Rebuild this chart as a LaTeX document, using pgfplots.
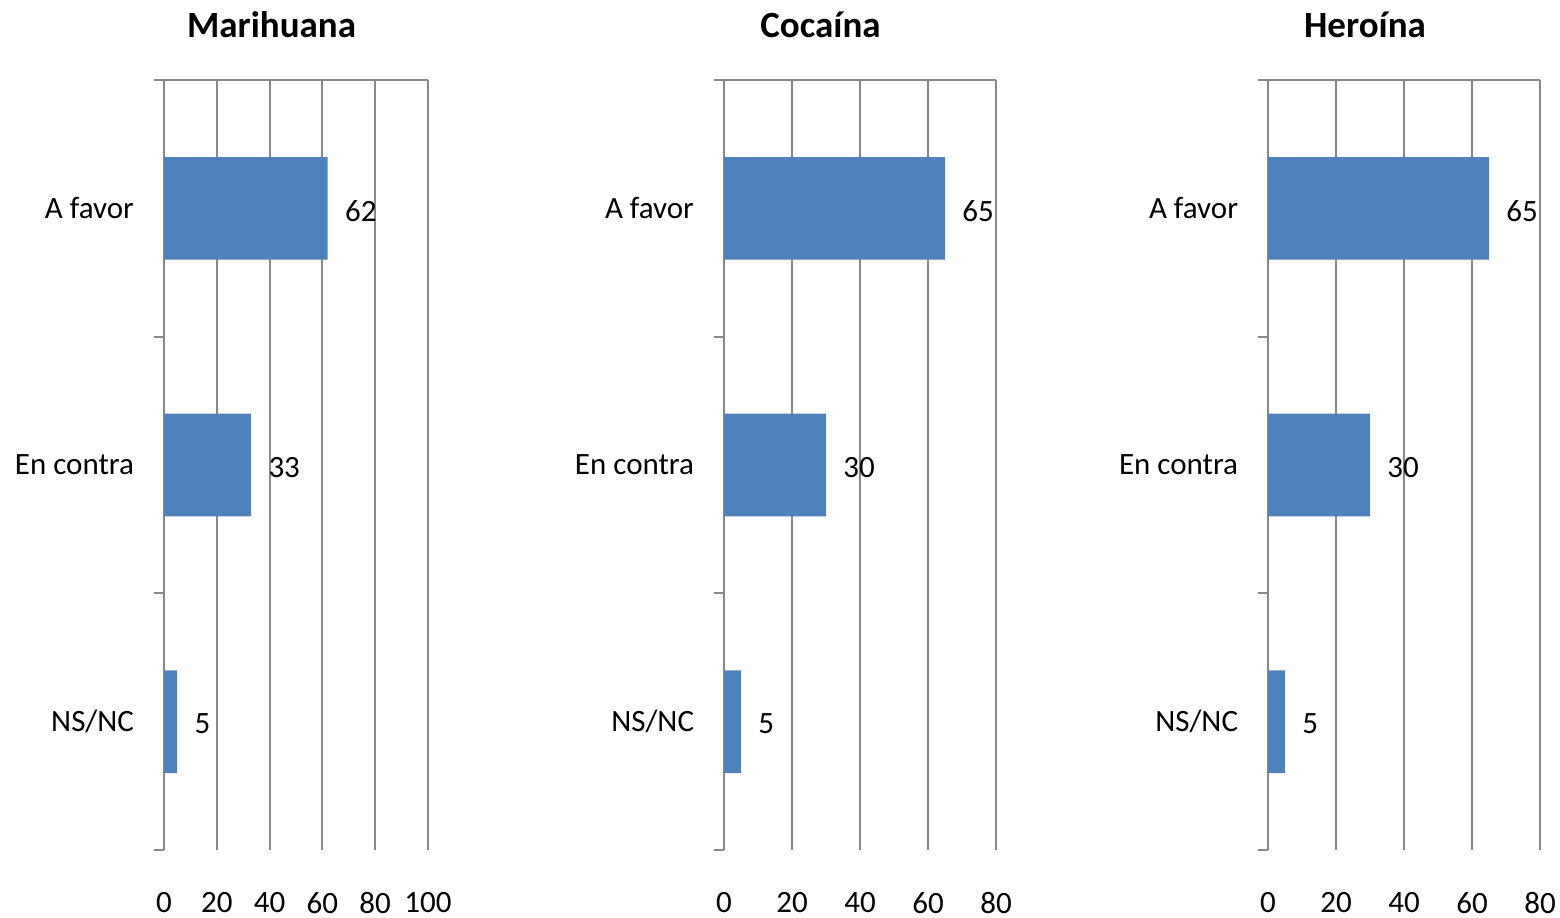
\documentclass[border=0pt]{standalone}
\usepackage{fontspec}
\setmainfont{Carlito}
\usepackage{pgfplots}
\pgfplotsset{compat=1.18}
\definecolor{barblue}{HTML}{4F81BD}
\definecolor{gridgray}{HTML}{888888}

\pgfplotsset{
  panel/.style={
    xbar, bar width=0.4, scale only axis,
    height=385bp,
    ymin=-0.5, ymax=2.5, y dir=reverse,
    xmin=0,
    ytick={0,1,2},
    yticklabels={A favor,En contra,NS/NC},
    minor ytick={-0.5,0.5,1.5,2.5},
    ytick pos=left,
    major tick length=0pt,
    minor tick length=5bp,
    tick align=outside,
    tick style={gridgray, line width=1bp},
    axis line style={draw=none},
    xmajorgrids,
    major grid style={gridgray, line width=1bp},
    /pgf/number format/assume math mode=true,
    tick label style={font=\fontsize{15.5bp}{18bp}\selectfont, text=black},
    yticklabel style={inner sep=0pt, xshift=-14.8bp},
    xticklabel style={inner sep=0pt, anchor=north, yshift=-21bp},
    nodes near coords,
    nodes near coords style={font=\fontsize{15.5bp}{18bp}\selectfont, text=black, anchor=west, inner sep=0pt, xshift=8.5bp, yshift=-1.2bp},
  },
  bars/.style={fill=barblue, draw=none},
}

\begin{document}
\begin{tikzpicture}[x=0.5bp, y=0.5bp]
\useasboundingbox (0,0) rectangle (1560,-917);

% Marihuana
\begin{axis}[panel, at={(82bp,-425bp)}, anchor=south west, width=132bp,
  xmax=100, xtick={0,20,40,60,80,100}]
\addplot[bars] coordinates {(62,0) (33,1) (5,2)};
\end{axis}
\draw[gridgray, line width=1bp] (164,-80) -- (428,-80);

% Cocaina
\begin{axis}[panel, at={(362bp,-425bp)}, anchor=south west, width=136bp,
  xmax=80, xtick={0,20,40,60,80}]
\addplot[bars] coordinates {(65,0) (30,1) (5,2)};
\end{axis}
\draw[gridgray, line width=1bp] (724,-80) -- (996,-80);

% Heroina
\begin{axis}[panel, at={(634bp,-425bp)}, anchor=south west, width=136bp,
  xmax=80, xtick={0,20,40,60,80}]
\addplot[bars] coordinates {(65,0) (30,1) (5,2)};
\end{axis}
\draw[gridgray, line width=1bp] (1268,-80) -- (1540,-80);

\node[anchor=base, font=\fontsize{18.5bp}{22bp}\selectfont\bfseries] at (271.5,-37) {Marihuana};
\node[anchor=base, font=\fontsize{18.5bp}{22bp}\selectfont\bfseries] at (820.5,-37) {Cocaína};
\node[anchor=base, font=\fontsize{18.5bp}{22bp}\selectfont\bfseries] at (1365,-37) {Heroína};
\end{tikzpicture}
\end{document}
